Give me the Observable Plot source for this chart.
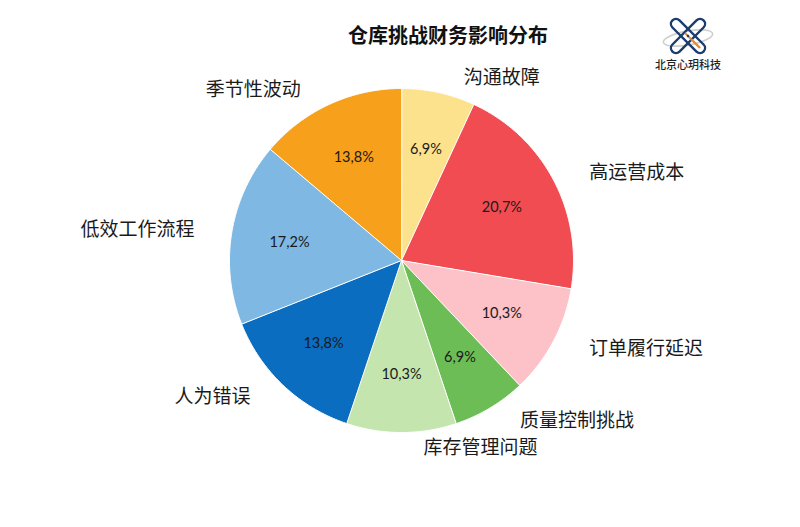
<!DOCTYPE html>
<html><head><meta charset="utf-8">
<script src="https://cdn.jsdelivr.net/npm/d3@7"></script>
<script src="https://cdn.jsdelivr.net/npm/@observablehq/plot@0.6"></script>
<style>
body{margin:0;background:#fff;width:800px;height:527px;overflow:hidden;position:relative;font-family:"Noto Sans CJK SC","Noto Sans",sans-serif;}
#title{position:absolute;left:448px;top:20px;transform:translateX(-50%);font-size:20px;font-weight:700;color:#111;white-space:nowrap;}
#logo{position:absolute;left:652px;top:16px;width:72px;text-align:center;}
#logo svg{display:block;margin:0 auto;}
#logo div{font-size:11px;font-weight:500;color:#222;margin-top:1px;line-height:14px;}
#chart{position:absolute;left:0;top:0;}
</style></head>
<body>
<div id="chart"></div>
<div id="title">仓库挑战财务影响分布</div>
<div id="logo">
<svg width="56" height="40" viewBox="0 0 56 40">
  <ellipse cx="28" cy="22" rx="25" ry="7" fill="none" stroke="#cfcfcf" stroke-width="1.6" transform="rotate(-10 28 22)"/>
  <rect x="23" y="-2" width="10" height="44" rx="5" fill="none" stroke="#1d3c6e" stroke-width="2.4" transform="rotate(45 28 20)"/>
  <rect x="23" y="-2" width="10" height="44" rx="5" fill="none" stroke="#1d3c6e" stroke-width="2.4" transform="rotate(-45 28 20)"/>
  <path d="M31 23 L40 32" stroke="#e98a2c" stroke-width="2.4" fill="none"/>
  <path d="M25 17 L31 23" stroke="#e98a2c" stroke-width="2" fill="none"/>
  <circle cx="28" cy="20" r="1.2" fill="#1d3c6e"/>
</svg>
<div>北京心玥科技</div>
</div>
<script>
const names = ["沟通故障","高运营成本","订单履行延迟","质量控制挑战","库存管理问题","人为错误","低效工作流程","季节性波动"];
const shares = [6.9,20.7,10.3,6.9,10.3,13.8,17.2,13.8];
const colors = ["#FDE28E","#F04C52","#FDC1C8","#6DBD57","#C4E6AE","#0B6DBF","#7EB8E3","#F6A01B"];

const cx = 401, cy = 260, R = 172;
const arcs = d3.pie().sort(null).value(d => d)(shares);
const pt = (a, r) => [cx + r * Math.sin(a), cy - r * Math.cos(a)];

const features = arcs.map((a, i) => {
  const n = Math.max(4, Math.ceil((a.endAngle - a.startAngle) / 0.01));
  const ring = [[cx, cy]];
  for (let k = 0; k <= n; k++) ring.push(pt(a.startAngle + (a.endAngle - a.startAngle) * k / n, R));
  ring.push([cx, cy]);
  return {type: "Feature", properties: {name: names[i], color: colors[i]}, geometry: {type: "Polygon", coordinates: [ring]}};
});

const rows = arcs.map((a, i) => {
  const mid = (a.startAngle + a.endAngle) / 2;
  const [ix, iy] = pt(mid, R * 0.66);
  const [ox, oy] = pt(mid, R * 1.09);
  return {name: names[i], pct: shares[i].toFixed(1).replace(".", ",") + "%", ix, iy, ox, oy, right: Math.sin(mid) >= 0};
});

const labelFont = "'Noto Sans CJK SC', sans-serif";
const chart = Plot.plot({
  width: 800, height: 527, margin: 0,
  projection: {type: "identity"},
  marks: [
    Plot.geo(features, {fill: d => d.properties.color, stroke: "white", strokeWidth: 1}),
    Plot.text(rows, {x: "ix", y: "iy", text: "pct", fontSize: 14.5, fill: "#1a1a1a", fontFamily: "Lato, 'Noto Sans', sans-serif"}),
    Plot.text(rows.filter(d => d.right), {x: "ox", y: "oy", text: "name", textAnchor: "start", dx: 22, fontSize: 19, fill: "#1a1a1a", fontFamily: labelFont}),
    Plot.text(rows.filter(d => !d.right), {x: "ox", y: "oy", text: "name", textAnchor: "end", dx: -22, fontSize: 19, fill: "#1a1a1a", fontFamily: labelFont})
  ]
});
document.getElementById("chart").appendChild(chart);
</script>
</body></html>
